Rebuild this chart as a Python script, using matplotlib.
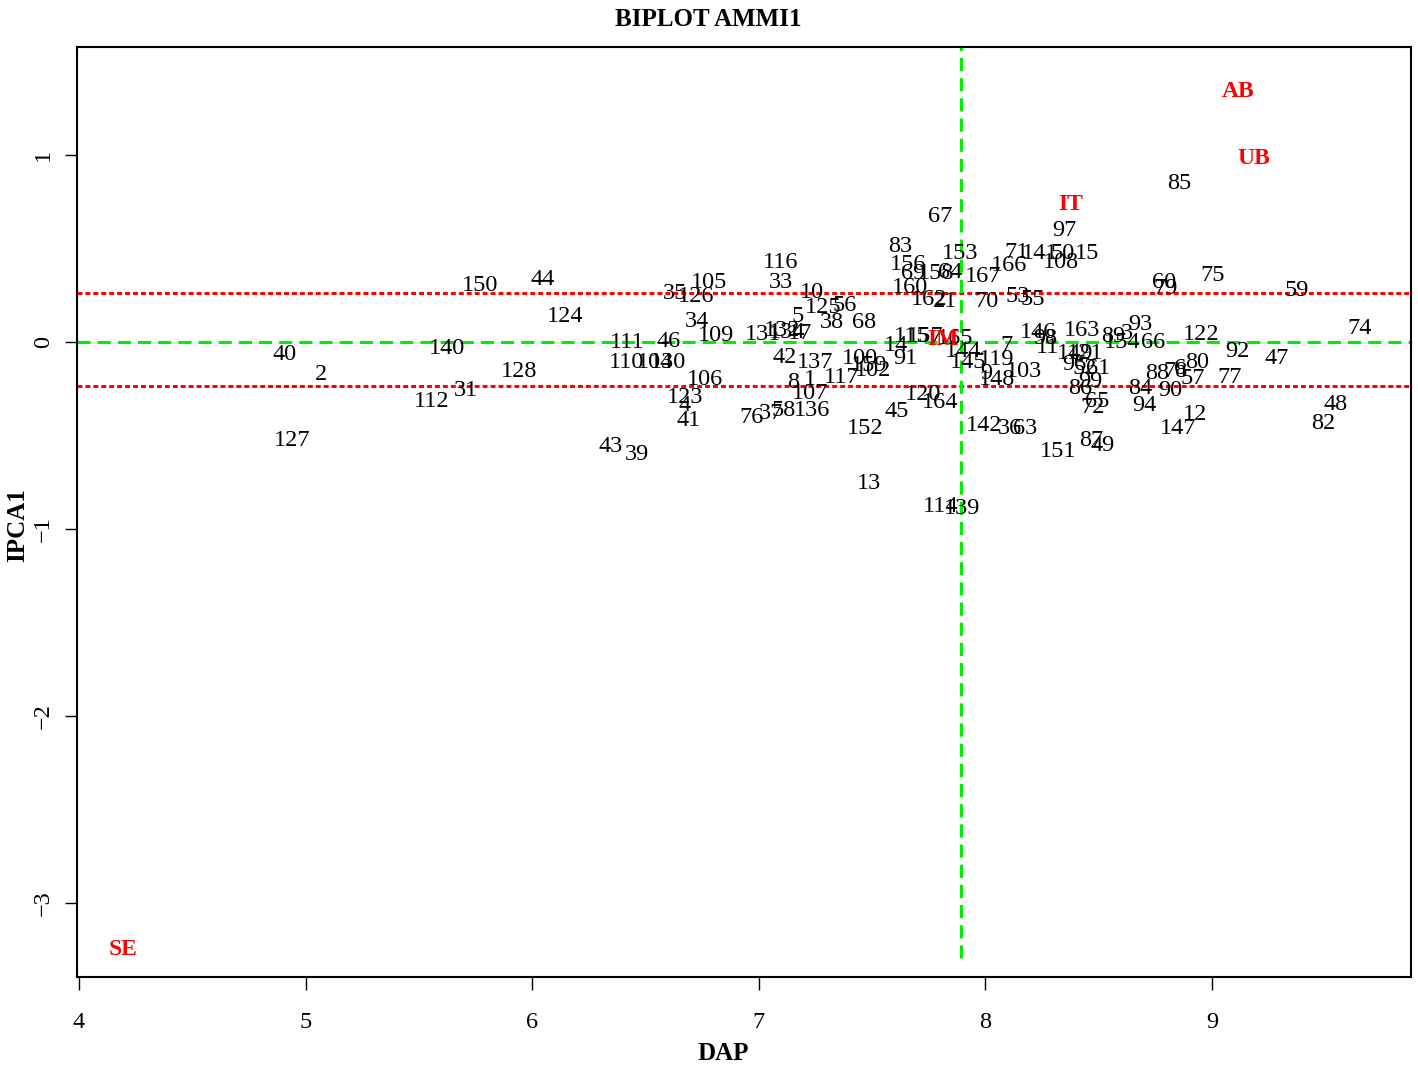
import matplotlib
matplotlib.use("Agg")
import matplotlib.pyplot as plt

plt.rcParams['font.family'] = ['Liberation Serif', 'DejaVu Serif']

# genotype scores: label, DAP mean, IPCA1
gen_labels = ["150", "44", "124", "40", "140", "2", "128", "31", "112", "127",
              "43", "39", "116", "105", "33", "35", "126", "10", "125", "56",
              "5", "38", "68", "34", "109", "111", "46", "110", "104", "130",
              "106", "123", "4", "41", "76", "37", "58", "136", "131", "132",
              "134", "17", "42", "137", "8", "1", "107", "117", "100", "159",
              "102", "152", "13", "45", "14", "91", "115", "157", "165", "144",
              "145", "119", "9", "148", "103", "7", "120", "164", "142", "36",
              "63", "114", "139", "67", "83", "153", "156", "69", "158", "64",
              "160", "162", "21", "167", "166", "71", "141", "50", "15", "108",
              "97", "53", "55", "70", "146", "98", "11", "163", "89", "3",
              "154", "93", "66", "122", "149", "121", "96", "52", "61", "99",
              "86", "65", "72", "84", "94", "88", "78", "6", "80", "90",
              "57", "147", "12", "77", "92", "47", "74", "48", "82", "59",
              "75", "60", "79", "85", "151", "87", "49"]
gen_dap = [5.770, 6.048, 6.145, 4.905, 5.624, 5.068, 5.942, 5.708, 5.558, 4.940,
           6.348, 6.463, 7.094, 6.780, 7.098, 6.630, 6.723, 7.235, 7.283, 7.380,
           7.169, 7.323, 7.464, 6.727, 6.811, 6.418, 6.604, 6.414, 6.542, 6.599,
           6.763, 6.674, 6.674, 6.688, 6.970, 7.054, 7.111, 7.235, 7.019, 7.102,
           7.124, 7.182, 7.116, 7.248, 7.151, 7.226, 7.226, 7.367, 7.447, 7.486,
           7.504, 7.469, 7.486, 7.610, 7.606, 7.645, 7.676, 7.734, 7.866, 7.901,
           7.923, 8.051, 8.003, 8.051, 8.170, 8.091, 7.725, 7.800, 7.994, 8.109,
           8.175, 7.804, 7.897, 7.800, 7.623, 7.888, 7.658, 7.680, 7.782, 7.844,
           7.667, 7.751, 7.822, 7.989, 8.104, 8.139, 8.241, 8.342, 8.448, 8.334,
           8.347, 8.144, 8.210, 8.003, 8.232, 8.263, 8.276, 8.426, 8.563, 8.625,
           8.603, 8.682, 8.740, 8.951, 8.395, 8.440, 8.391, 8.440, 8.497, 8.462,
           8.417, 8.493, 8.475, 8.682, 8.700, 8.757, 8.837, 8.859, 8.934, 8.815,
           8.916, 8.850, 8.925, 9.079, 9.110, 9.287, 9.649, 9.547, 9.490, 9.375,
           9.004, 8.788, 8.797, 8.854, 8.320, 8.466, 8.519]
gen_ipca = [0.305, 0.332, 0.134, -0.064, -0.032, -0.171, -0.160, -0.257, -0.316, -0.529,
            -0.561, -0.604, 0.428, 0.316, 0.321, 0.262, 0.241, 0.267, 0.187, 0.193,
            0.134, 0.107, 0.107, 0.112, 0.037, 0.000, 0.005, -0.107, -0.107, -0.107,
            -0.198, -0.294, -0.342, -0.417, -0.406, -0.380, -0.364, -0.364, 0.043, 0.064,
            0.053, 0.048, -0.080, -0.107, -0.214, -0.203, -0.273, -0.187, -0.086, -0.128,
            -0.150, -0.465, -0.754, -0.369, -0.016, -0.086, 0.032, 0.032, 0.021, -0.053,
            -0.107, -0.096, -0.166, -0.203, -0.155, -0.016, -0.283, -0.321, -0.444, -0.460,
            -0.465, -0.882, -0.888, 0.674, 0.513, 0.476, 0.417, 0.369, 0.369, 0.374,
            0.294, 0.230, 0.219, 0.348, 0.412, 0.481, 0.471, 0.476, 0.476, 0.428,
            0.594, 0.241, 0.230, 0.219, 0.053, 0.021, -0.027, 0.064, 0.032, 0.048,
            0.000, 0.096, 0.000, 0.043, -0.059, -0.059, -0.118, -0.144, -0.139, -0.209,
            -0.251, -0.316, -0.348, -0.246, -0.342, -0.166, -0.160, -0.139, -0.112, -0.257,
            -0.193, -0.460, -0.390, -0.187, -0.048, -0.086, 0.070, -0.332, -0.433, 0.273,
            0.358, 0.316, 0.289, 0.850, -0.583, -0.524, -0.551]

# environment scores
env_labels = ["AB", "UB", "IT", "IM", "SE"]
env_dap = [9.115, 9.185, 8.378, 7.813, 4.194]
env_ipca = [1.342, 0.979, 0.733, 0.011, -3.251]

grand_mean = 7.892
ipca_upper = 0.262
ipca_lower = -0.235

fig = plt.figure(figsize=(14.18, 10.66), dpi=100)
ax = fig.add_axes([77 / 1418, 1 - 977 / 1066, 1334 / 1418, 930 / 1066])
ax.set_xlim(3.991, 9.878)
ax.set_ylim(-3.396, 1.578)

ax.axhline(ipca_upper, color='red', lw=2.2, dashes=(1.6, 1.0))
ax.axhline(ipca_lower, color='red', lw=2.2, dashes=(1.6, 1.0))
ax.axhline(0, color='#00ee00', lw=2.2, dashes=(4.3, 2.3))
ax.axvline(grand_mean, ymin=0.02, ymax=1, color='#00ee00', lw=2.2, dashes=(4.3, 2.3))

for lab, x, y in zip(gen_labels, gen_dap, gen_ipca):
    ax.text(x, y, lab, fontsize=17.5, ha='center', va='center', color='black')
for lab, x, y in zip(env_labels, env_dap, env_ipca):
    ax.text(x, y, lab, fontsize=17, ha='center', va='center', color='red',
            fontweight='bold')

ax.set_xticks([4, 5, 6, 7, 8, 9])
ax.set_yticks([-3, -2, -1, 0, 1])
ax.tick_params(axis='x', length=9.5, width=1, labelsize=17.5, pad=16)
ax.tick_params(axis='y', length=8.5, width=1, labelsize=17.5, pad=8)
for t in ax.get_yticklabels():
    t.set_rotation(90)
    t.set_va('center')
for s in ax.spines.values():
    s.set_linewidth(1.5)

fig.text(723 / 1418, 1 - 1053 / 1066, 'DAP', fontsize=18, fontweight='bold',
         ha='center', va='center')
fig.text(18 / 1418, 1 - 525 / 1066, 'IPCA1', fontsize=18, fontweight='bold',
         ha='center', va='center', rotation=90)
fig.text(708 / 1418, 1 - 19 / 1066, 'BIPLOT AMMI1', fontsize=18, fontweight='bold',
         ha='center', va='center')

fig.savefig('out.png', dpi=100)
